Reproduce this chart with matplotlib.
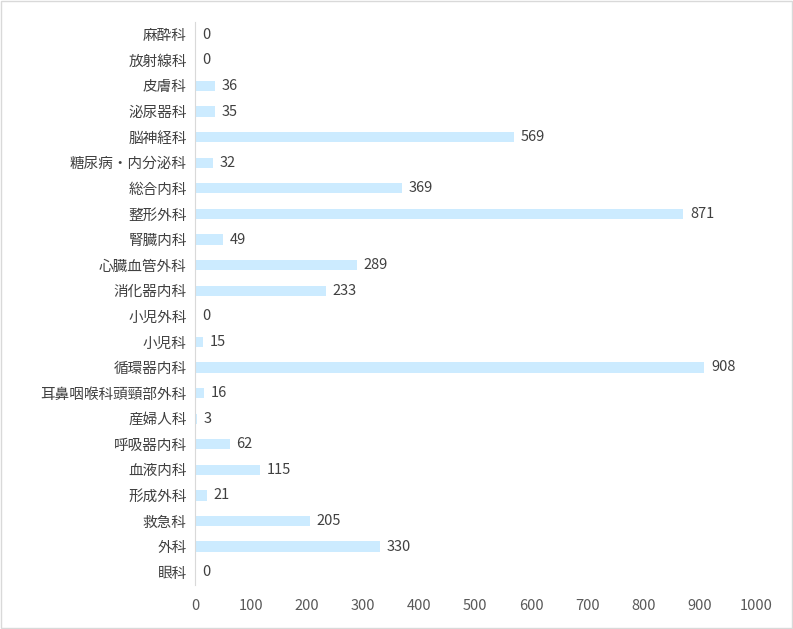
import matplotlib
matplotlib.use("Agg")
import matplotlib.pyplot as plt
from matplotlib.patches import Rectangle

plt.rcParams['font.family'] = ['Noto Sans CJK JP', 'DejaVu Sans']

categories = ["麻酔科","放射線科","皮膚科","泌尿器科","脳神経科","糖尿病・内分泌科","総合内科","整形外科","腎臓内科","心臓血管外科","消化器内科","小児外科","小児科","循環器内科","耳鼻咽喉科頭頸部外科","産婦人科","呼吸器内科","血液内科","形成外科","救急科","外科","眼科"]
values = [0,0,36,35,569,32,369,871,49,289,233,0,15,908,16,3,62,115,21,205,330,0]
ticks = list(range(0, 1001, 100))

fig = plt.figure(figsize=(7.93, 6.29), dpi=100)
ax = fig.add_axes([0.246, 0.07, 0.707, 0.895])
y = list(range(len(categories)))
ax.barh(y, values, height=0.4, color='#CCEBFF')
for yi, v in zip(y, values):
    ax.text(v + 12, yi, str(v), va='center', ha='left', fontsize=10.5, color='#404040')
ax.set_yticks(y)
ax.set_yticklabels(categories, fontsize=10.5, color='#404040')
ax.set_ylim(len(categories) - 0.5, -0.5)
ax.set_xlim(0, 1000)
ax.set_xticks(ticks)
ax.set_xticklabels([str(t) for t in ticks], fontsize=10.5, color='#595959')
for s in ['top', 'right', 'bottom']:
    ax.spines[s].set_visible(False)
ax.spines['left'].set_color('#D9D9D9')
ax.tick_params(length=0)
ax.tick_params(axis='x', pad=10)
ax.tick_params(axis='y', pad=6)
fig.patches.append(Rectangle((0.001, 0.001), 0.998, 0.998, transform=fig.transFigure,
                             fill=False, edgecolor='#D9D9D9', linewidth=1))
fig.savefig("out.png", dpi=100)
